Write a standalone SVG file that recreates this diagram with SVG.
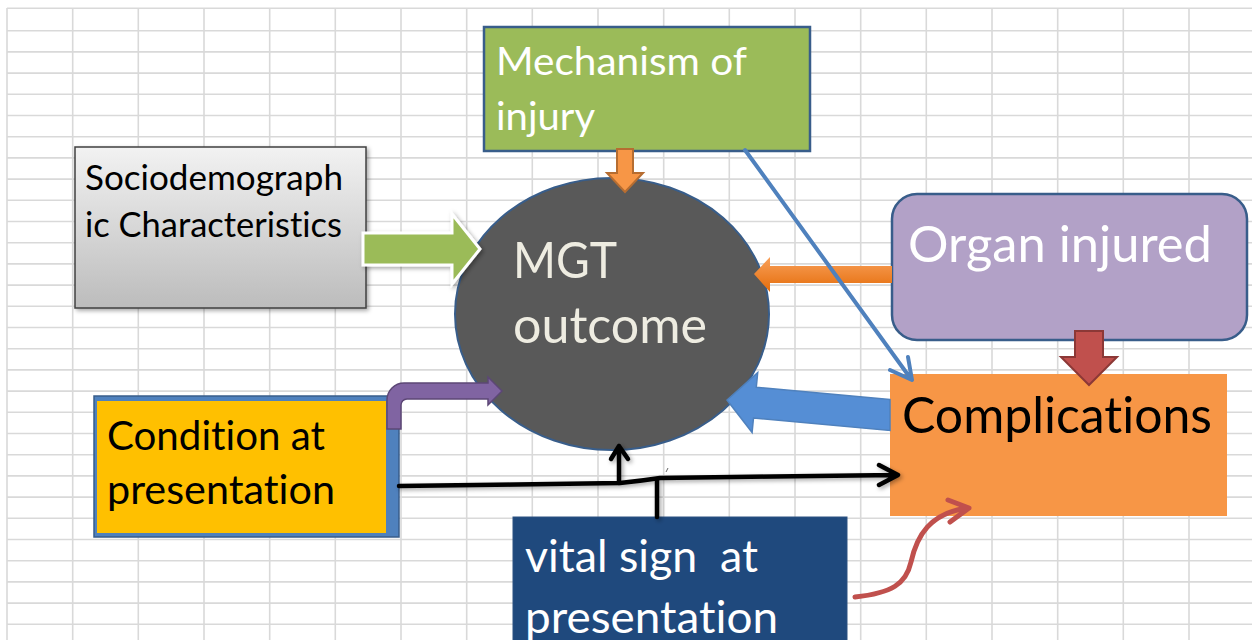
<svg xmlns="http://www.w3.org/2000/svg" width="1252" height="640" viewBox="0 0 1252 640">
<style>
.grid{stroke:#d9d9d9;stroke-width:1.6;fill:none}
.t{font-family:Lato,"Open Sans","Liberation Sans",sans-serif;font-variant-ligatures:none;font-feature-settings:"liga" 0,"clig" 0;white-space:pre}
.blk{stroke:#000;stroke-width:4.5;fill:none;stroke-linecap:round;stroke-linejoin:round}
</style>
<defs>
<linearGradient id="gray" x1="0" y1="0" x2="0" y2="1"><stop offset="0" stop-color="#f2f2f2"/><stop offset="1" stop-color="#bcbcbc"/></linearGradient>
<linearGradient id="org" x1="0" y1="0" x2="0" y2="1"><stop offset="0" stop-color="#f9a059"/><stop offset="1" stop-color="#e46c0a"/></linearGradient>
<filter id="sh" x="-10%" y="-10%" width="130%" height="140%"><feDropShadow dx="2" dy="2" stdDeviation="2" flood-opacity="0.35"/></filter>
</defs>
<rect width="1252" height="640" fill="#fff"/>
<path class="grid" d="M7,8.3H1252M7,30.7H1252M7,51.9H1252M7,73.1H1252M7,94.3H1252M7,115.5H1252M7,136.7H1252M7,157.9H1252M7,179.1H1252M7,200.3H1252M7,221.5H1252M7,242.7H1252M7,263.9H1252M7,285.1H1252M7,306.3H1252M7,327.5H1252M7,348.7H1252M7,369.9H1252M7,391.1H1252M7,412.3H1252M7,433.5H1252M7,454.7H1252M7,475.9H1252M7,497.1H1252M7,518.3H1252M7,539.5H1252M7,560.7H1252M7,581.9H1252M7,603.1H1252M7,624.3H1252M7,8V640M72.7,8V640M138.3,8V640M204,8V640M269.7,8V640M335.3,8V640M401,8V640M466.7,8V640M532.3,8V640M598,8V640M663.7,8V640M729.3,8V640M795,8V640M860.7,8V640M926.3,8V640M992,8V640M1057.7,8V640M1123.3,8V640M1189,8V640"/>

<g id="mgt-outcome">
<ellipse cx="612" cy="314" rx="157" ry="136" fill="#595959" stroke="#385d8a" stroke-width="2"/>
<text class="t" x="513" y="278" font-size="50" fill="#eeece1" textLength="104" lengthAdjust="spacingAndGlyphs">MGT</text>
<text class="t" x="513" y="343" font-size="50" fill="#eeece1" textLength="194" lengthAdjust="spacingAndGlyphs">outcome</text>
</g>

<g id="sociodemographic">
<rect x="75" y="147" width="291" height="161" fill="url(#gray)" stroke="#404040" stroke-width="1.5" filter="url(#sh)"/>
<text class="t" x="85" y="190" font-size="35" fill="#000" textLength="258" lengthAdjust="spacingAndGlyphs">Sociodemograph</text>
<text class="t" x="85" y="237" font-size="35" fill="#000" textLength="257" lengthAdjust="spacingAndGlyphs">ic Characteristics</text>
</g>

<g id="mechanism">
<rect x="484" y="27" width="326" height="124" fill="#9bbb59" stroke="#385d8a" stroke-width="2.5"/>
<text class="t" x="496" y="75" font-size="39" fill="#fff" textLength="251" lengthAdjust="spacingAndGlyphs">Mechanism of</text>
<text class="t" x="496" y="130" font-size="39" fill="#fff" textLength="99" lengthAdjust="spacingAndGlyphs">injury</text>
</g>

<g id="organ-injured">
<rect x="892" y="194" width="355" height="146" rx="25" fill="#b2a1c7" stroke="#385d8a" stroke-width="2.5"/>
<text class="t" x="908" y="262" font-size="50" fill="#fff" textLength="304" lengthAdjust="spacingAndGlyphs">Organ injured</text>
</g>

<g id="complications">
<rect x="890" y="374" width="337" height="142" fill="#f79646"/>
<text class="t" x="902" y="433" font-size="50" fill="#000" textLength="310" lengthAdjust="spacingAndGlyphs">Complications</text>
</g>

<g id="condition">
<rect x="94" y="396" width="305" height="141" fill="#4f81bd" stroke="#385d8a" stroke-width="1.5"/>
<rect x="97" y="401" width="289" height="132" fill="#ffc000"/>
<text class="t" x="107" y="450" font-size="40" fill="#000" textLength="218" lengthAdjust="spacingAndGlyphs">Condition at</text>
<text class="t" x="107" y="504" font-size="40" fill="#000" textLength="228" lengthAdjust="spacingAndGlyphs">presentation</text>
</g>

<g id="vital-sign">
<rect x="513" y="517" width="334" height="130" fill="#1f497d" stroke="#2c5282" stroke-width="1"/>
<text class="t" x="525" y="572" font-size="44" fill="#fff" textLength="233" lengthAdjust="spacingAndGlyphs" xml:space="preserve">vital sign  at</text>
<text class="t" x="525" y="633" font-size="44" fill="#fff" textLength="253" lengthAdjust="spacingAndGlyphs">presentation</text>
</g>

<g id="connectors">
<polygon points="363,233 452,233 452,214 480,249 452,284 452,265 363,265" fill="#9bbb59" stroke="#fff" stroke-width="3" filter="url(#sh)"/>
<polygon points="617,149 633,149 633,173 643,173 625,192 607,173 617,173" fill="#f79646" stroke="#b66d31" stroke-width="2"/>
<polygon points="892,266 770,266 770,257 754,274 770,292 770,283 892,283" fill="url(#org)"/>
<polygon points="890,399.6 756.3,387.2 757.7,372.7 727,400 752.1,432.5 753.5,418 890,430.4" fill="#558ed5" stroke="#4f81bd" stroke-width="1.5"/>
<polygon points="1075,331 1103,331 1103,357 1117,357 1089,385 1061,357 1075,357" fill="#c0504d" stroke="#8c3836" stroke-width="2"/>
<path d="M387,429V400A17,17 0 0 1 404,383H488V377L502,391L488,405V399H407A6,6 0 0 0 401,405V429Z" fill="#8064a2" stroke="#5c4776" stroke-width="1.5"/>
<g filter="url(#sh)">
<path class="blk" d="M399,486L620,483Q640,481 660,478L896,475M879,465L898,475L879,485"/>
<path class="blk" d="M619,483V446M611,459L619,446L628,459"/>
<path class="blk" d="M657,479V517"/>
</g>
<path d="M666,472L668,468" stroke="#666" stroke-width="1"/>
<path d="M745,150L911,379M890,370L912,380L908,357" stroke="#4f81bd" stroke-width="4" fill="none" stroke-linecap="round" stroke-linejoin="round"/>
<path d="M855,597C892,593 906,584 911,562C917,535 930,514 966,508M948,500L969,508L950,522" stroke="#c0504d" stroke-width="5" fill="none" stroke-linecap="round" stroke-linejoin="round"/>
</g>
</svg>
